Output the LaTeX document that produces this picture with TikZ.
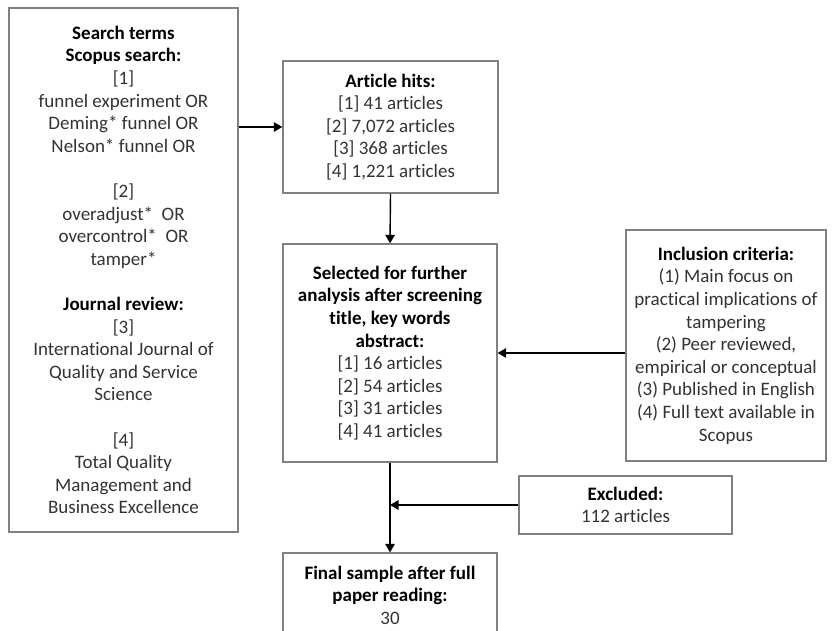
\documentclass[tikz,border=0pt]{standalone}
\usepackage{fontspec}
\setmainfont[Ligatures=NoCommon]{Carlito}
\usetikzlibrary{arrows.meta}
\definecolor{boxgray}{HTML}{808080}
\definecolor{txtgray}{HTML}{333333}
\begin{document}
\begin{tikzpicture}[x=1pt,y=-1pt,
  flowbox/.style={draw=boxgray,line width=1.3pt,inner sep=0pt,align=center,
    font=\fontsize{19}{22.6}\selectfont,text=txtgray},
  conn/.style={line width=1.4pt,draw=black,-{Triangle[length=8.5pt,width=9.5pt]}}]
\useasboundingbox (0,0) rectangle (833,630);
\fill[white] (0,0) rectangle (833,630);
\newcommand{\hdr}[1]{\textcolor{black}{\bfseries #1}}
\node[flowbox,minimum width=229pt,minimum height=524pt] (terms) at (123.5,270)
 {\hdr{Search terms}\\ \hdr{Scopus search:}\\ {[1]}\\ funnel experiment OR\\ Deming* funnel OR\\ Nelson* funnel OR\\ \mbox{}\\ {[2]}\\ overadjust*\ \ OR\\ overcontrol*\ \ OR\\ tamper*\\ \mbox{}\\ \hdr{Journal review:}\\ {[3]}\\ International Journal of\\ Quality and Service\\ Science\\ \mbox{}\\ {[4]}\\ Total Quality\\ Management and\\ Business Excellence};
\node[flowbox,minimum width=215pt,minimum height=132pt] (hits) at (390.5,127)
 {\hdr{Article hits:}\\ {[1]} 41 articles\\ {[2]} 7,072 articles\\ {[3]} 368 articles\\ {[4]} 1,221 articles};
\node[flowbox,minimum width=214pt,minimum height=218pt] (sel) at (390,353)
 {\hdr{Selected for further}\\ \hdr{analysis after screening}\\ \hdr{title, key words}\\ \hdr{abstract:}\\ {[1]} 16 articles\\ {[2]} 54 articles\\ {[3]} 31 articles\\ {[4]} 41 articles};
\node[flowbox,minimum width=200pt,minimum height=231pt] (inc) at (726,345.5)
 {\hdr{Inclusion criteria:}\\ (1) Main focus on\\ practical implications of\\ tampering\\ (2) Peer reviewed,\\ empirical or conceptual\\ (3) Published in English\\ (4) Full text available in\\ Scopus};
\node[flowbox,minimum width=213pt,minimum height=58pt] (exc) at (625.5,505)
 {\hdr{Excluded:}\\ 112 articles};
\node[flowbox,minimum width=214pt,minimum height=84pt] (fin) at (390,595)
 {\hdr{Final sample after full}\\ \hdr{paper reading:}\\ 30};
\coordinate (tout) at (terms.east |- hits.west);
\coordinate (iout) at (inc.west |- sel.east);
\coordinate (join) at (sel.south |- exc.west);
\draw[conn] (tout) -- (hits.west);
\draw[conn] (hits.south) -- (sel.north);
\draw[conn] (iout) -- (sel.east);
\draw[conn] (sel.south) -- (fin.north);
\draw[conn] (exc.west) -- (join);
\end{tikzpicture}
\end{document}
